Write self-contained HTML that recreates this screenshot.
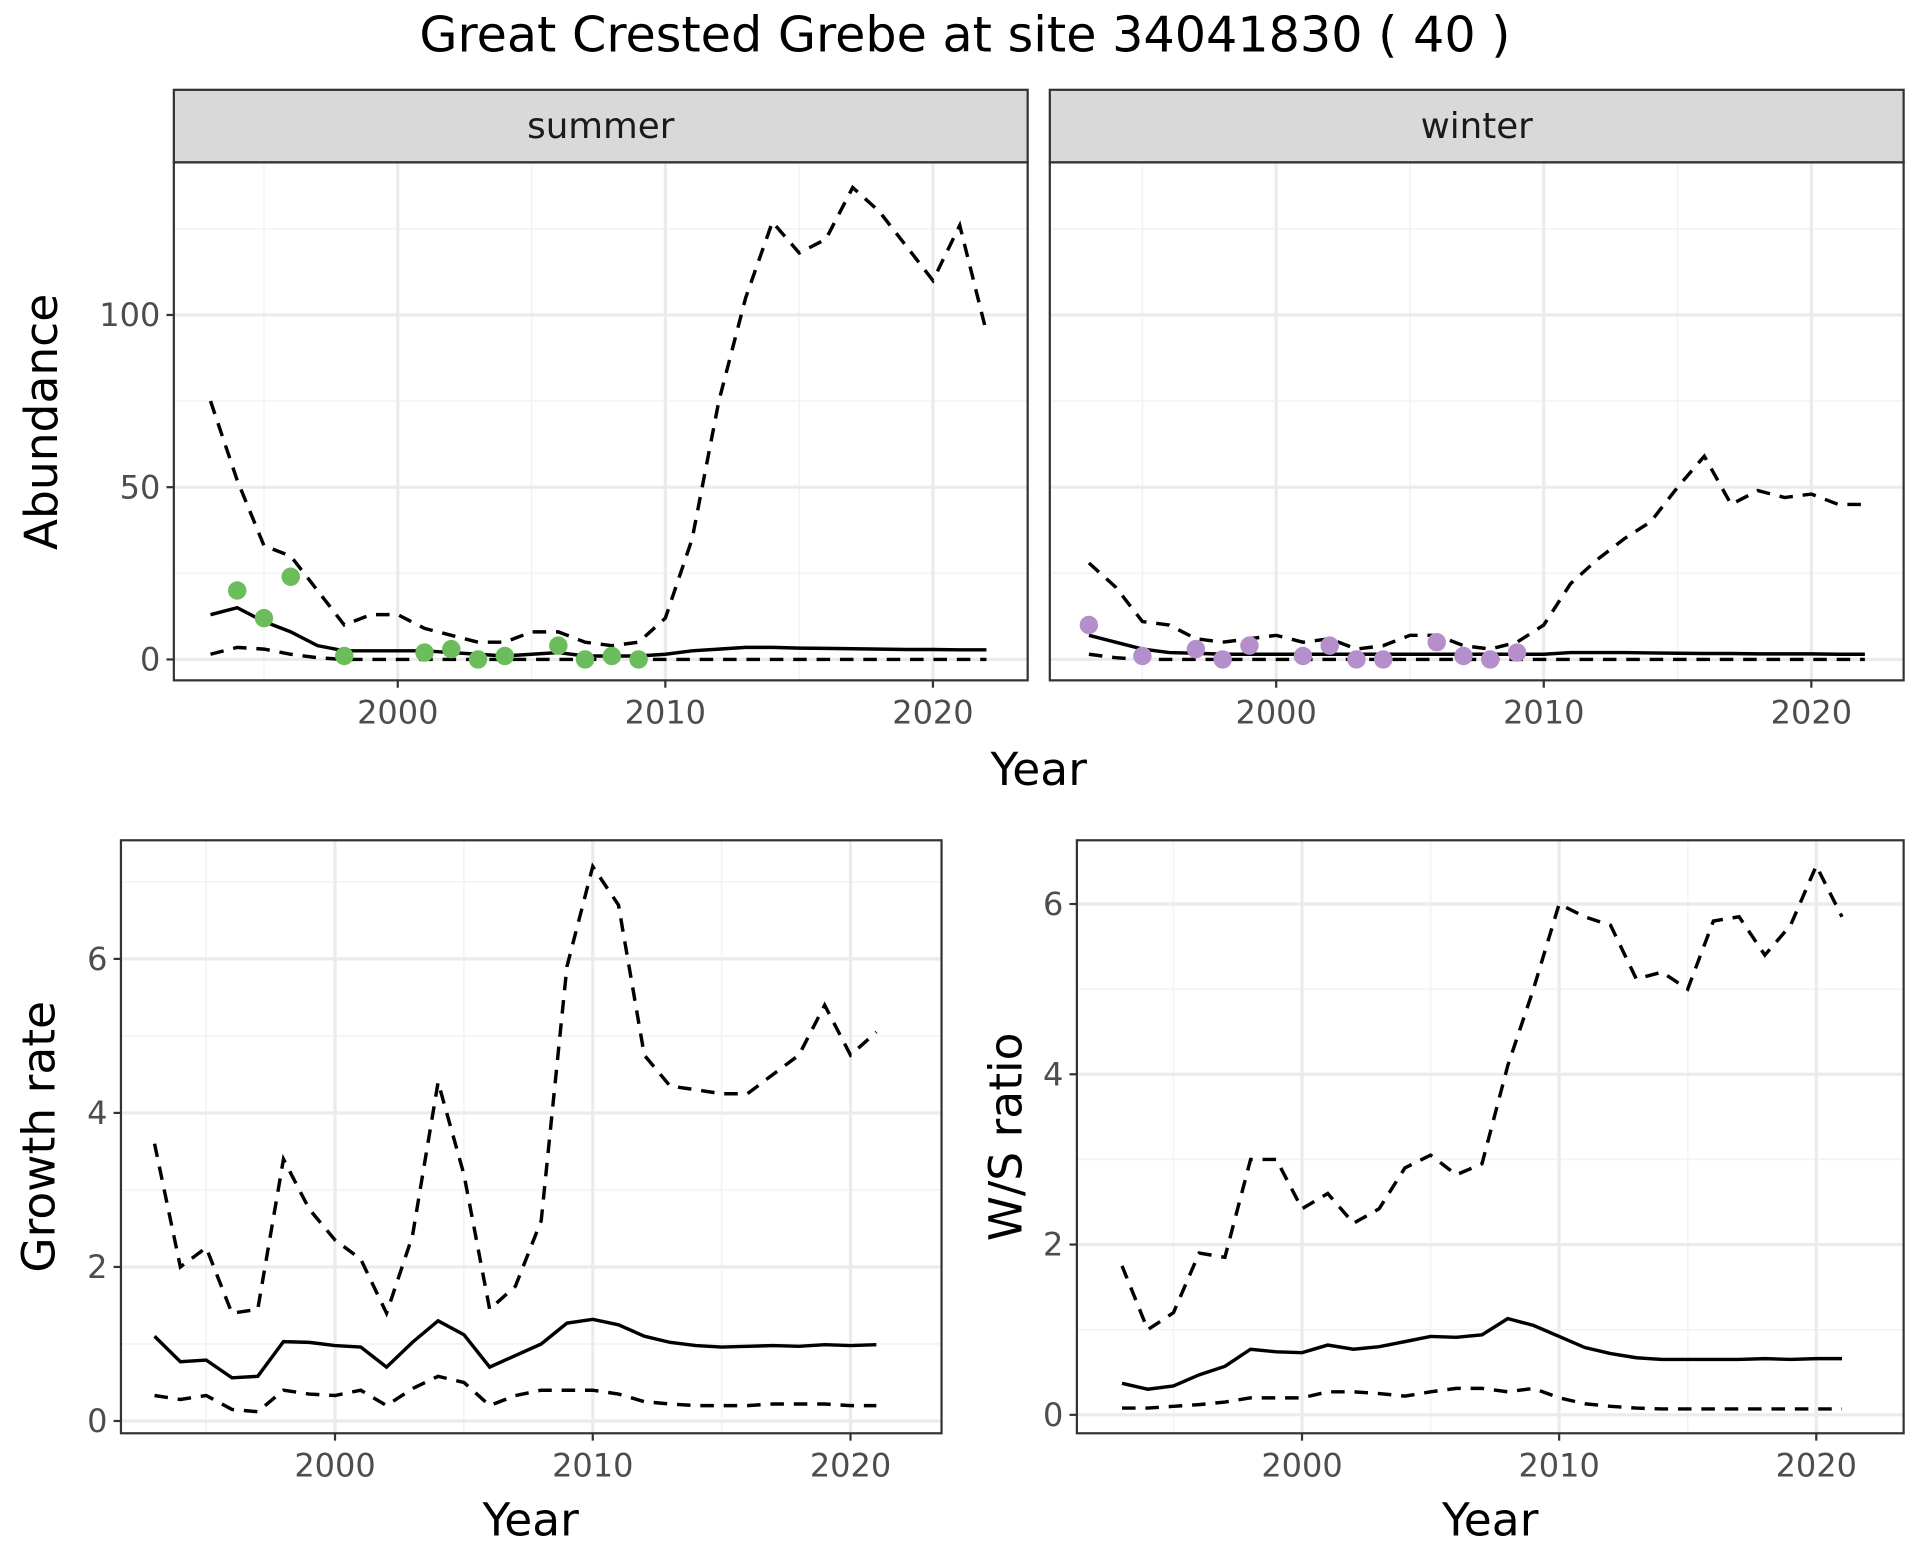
<!DOCTYPE html>
<html><head><meta charset="utf-8"><style>
html,body{margin:0;padding:0;background:#fff}
svg text{font-family:"DejaVu Sans","Liberation Sans",sans-serif}
</style></head><body>
<svg id="s" xmlns="http://www.w3.org/2000/svg" width="1920" height="1560" viewBox="0 0 1560 1268"></svg>
<script>
const S=document.getElementById('s');let h='';
h+='<rect width="1560" height="1268" fill="#fff"/>';
h+='<text x="784" y="42" font-size="40" text-anchor="middle" fill="#000">Great Crested Grebe at site 34041830 ( 40 )</text>';
function panel(o){
 const {x0,x1,y0,y1,X,Y,yt,showY,series,pts,col,yearsStart}=o;
 const px=v=>X[0]+(v-2000)*X[1], py=v=>Y[0]-v*Y[1];
 let g='';
 [1995,2005,2015].forEach(v=>{g+=`<line x1="${px(v)}" x2="${px(v)}" y1="${y0}" y2="${y1}" stroke="#f3f3f3" stroke-width="1.3"/>`});
 for(let i=0;i<yt.length+1;i++){const v=(i-0.5)*(yt[1]-yt[0]);const y=py(v);if(y>y0&&y<y1)g+=`<line x1="${x0}" x2="${x1}" y1="${y}" y2="${y}" stroke="#f3f3f3" stroke-width="1.3"/>`;}
 [2000,2010,2020].forEach(v=>{g+=`<line x1="${px(v)}" x2="${px(v)}" y1="${y0}" y2="${y1}" stroke="#ebebeb" stroke-width="2.6"/>`;g+=`<line x1="${px(v)}" x2="${px(v)}" y1="${y1}" y2="${y1+6}" stroke="#333" stroke-width="1.8"/>`;g+=`<text x="${px(v)}" y="${y1+35}" font-size="26" fill="#4d4d4d" text-anchor="middle">${v}</text>`});
 yt.forEach(v=>{const y=py(v);g+=`<line x1="${x0}" x2="${x1}" y1="${y}" y2="${y}" stroke="#ebebeb" stroke-width="2.6"/>`;if(showY){g+=`<line x1="${x0-6}" x2="${x0}" y1="${y}" y2="${y}" stroke="#333" stroke-width="1.8"/><text x="${x0-11}" y="${y+9}" font-size="26" fill="#4d4d4d" text-anchor="end">${v}</text>`}});
 series.forEach(([d,dash])=>{const p=d.map((v,i)=>`${px(yearsStart+i).toFixed(1)},${py(v).toFixed(1)}`).join(' ');g+=`<polyline points="${p}" fill="none" stroke="#000" stroke-width="2.8" ${dash?'stroke-dasharray="11,8"':''}/>`});
 if(pts)pts.forEach(([yr,v])=>{g+=`<circle cx="${px(yr)}" cy="${py(v)}" r="7.5" fill="${col}"/>`});
 g+=`<rect x="${x0}" y="${y0}" width="${x1-x0}" height="${y1-y0}" fill="none" stroke="#333" stroke-width="1.8"/>`;
 return g;
}
const sm=[13,15,11,8,4,2.5,2.5,2.5,2.5,2,1.5,1,1.5,2,1,1,1,1.5,2.5,3,3.5,3.5,3.3,3.2,3.1,3,2.9,2.9,2.8,2.8];
const su=[75,52,33,30,20,10,13,13,9,7,5,5,8,8,5,4,5,12,35,75,105,127,118,122,137,130,120,110,126,95];
const sl=[1.5,3.5,3,1.5,0.5,0,0,0,0,0,0,0,0,0,0,0,0,0,0,0,0,0,0,0,0,0,0,0,0,0];
const wm=[7,5,3,2,1.8,1.5,1.5,1.5,1.5,1.5,1.5,1.5,1.5,1.5,1.5,1.5,1.5,1.5,2,2,2,1.9,1.8,1.7,1.7,1.6,1.6,1.6,1.5,1.5];
const wu=[28,21,11,10,6,5,6,7,5,6,3,4,7,7,4,3,5,10,22,29,35,40,50,59,45,49,47,48,45,45];
const wl=[1.5,0.5,0,0,0,0,0,0,0,0,0,0,0,0,0,0,0,0,0,0,0,0,0,0,0,0,0,0,0,0];
h+='<rect x="141" y="73" width="694" height="59" fill="#d9d9d9" stroke="#333" stroke-width="1.8"/><text x="488" y="112" font-size="29" text-anchor="middle" fill="#1a1a1a">summer</text>';
h+='<rect x="853" y="73" width="694" height="59" fill="#d9d9d9" stroke="#333" stroke-width="1.8"/><text x="1200" y="112" font-size="29" text-anchor="middle" fill="#1a1a1a">winter</text>';
h+=panel({x0:141,x1:835,y0:132,y1:553,X:[323,21.75],Y:[536,2.8],yt:[0,50,100],showY:true,series:[[sm],[su,1],[sl,1]],yearsStart:1993,col:'#6abd5a',
 pts:[[1994,20],[1995,12],[1996,24],[1998,1],[2001,2],[2002,3],[2003,0],[2004,1],[2006,4],[2007,0],[2008,1],[2009,0]]});
h+=panel({x0:853,x1:1547,y0:132,y1:553,X:[1037,21.75],Y:[536,2.8],yt:[0,50,100],showY:false,series:[[wm],[wu,1],[wl,1]],yearsStart:1993,col:'#b48fcc',
 pts:[[1993,10],[1995,1],[1997,3],[1998,0],[1999,4],[2001,1],[2002,4],[2003,0],[2004,0],[2006,5],[2007,1],[2008,0],[2009,2]]});
h+='<text x="844" y="638" font-size="37" text-anchor="middle">Year</text>';
h+='<text transform="translate(46,343) rotate(-90)" font-size="37" text-anchor="middle">Abundance</text>';
const gm=[1.1,0.77,0.79,0.56,0.58,1.03,1.02,0.98,0.96,0.7,1.02,1.3,1.12,0.7,0.85,1.0,1.27,1.32,1.25,1.1,1.02,0.98,0.96,0.97,0.98,0.97,0.99,0.98,0.99];
const gu=[3.6,2.0,2.25,1.4,1.45,3.4,2.75,2.35,2.1,1.4,2.4,4.4,3.2,1.45,1.75,2.6,5.9,7.2,6.7,4.75,4.35,4.3,4.25,4.25,4.5,4.75,5.4,4.75,5.05];
const gl=[0.33,0.28,0.33,0.15,0.12,0.4,0.35,0.33,0.4,0.2,0.42,0.58,0.5,0.2,0.33,0.4,0.4,0.4,0.35,0.25,0.22,0.2,0.2,0.2,0.22,0.22,0.22,0.2,0.2];
h+=panel({x0:98,x1:765,y0:683,y1:1165,X:[272,20.95],Y:[1155,62.6],yt:[0,2,4,6],showY:true,series:[[gm],[gu,1],[gl,1]],yearsStart:1993});
h+='<text x="431" y="1248" font-size="37" text-anchor="middle">Year</text>';
h+='<text transform="translate(44,924) rotate(-90)" font-size="37" text-anchor="middle">Growth rate</text>';
const rm=[0.37,0.3,0.34,0.47,0.57,0.77,0.74,0.73,0.82,0.77,0.8,0.86,0.92,0.91,0.94,1.13,1.05,0.92,0.79,0.72,0.67,0.65,0.65,0.65,0.65,0.66,0.65,0.66,0.66];
const ru=[1.75,1.0,1.2,1.9,1.85,3.0,3.0,2.42,2.6,2.25,2.42,2.9,3.05,2.82,2.95,4.1,5.0,6.0,5.85,5.75,5.12,5.2,5.0,5.8,5.85,5.4,5.75,6.45,5.85];
const rl=[0.08,0.08,0.1,0.12,0.15,0.2,0.2,0.2,0.27,0.27,0.25,0.22,0.27,0.31,0.31,0.27,0.31,0.2,0.13,0.1,0.08,0.07,0.07,0.07,0.07,0.07,0.07,0.07,0.07];
h+=panel({x0:875,x1:1547,y0:683,y1:1165,X:[1058,20.9],Y:[1150,69.2],yt:[0,2,4,6],showY:true,series:[[rm],[ru,1],[rl,1]],yearsStart:1993});
h+='<text x="1211" y="1248" font-size="37" text-anchor="middle">Year</text>';
h+='<text transform="translate(830,924) rotate(-90)" font-size="37" text-anchor="middle">W/S ratio</text>';
S.innerHTML=h;
</script>
</body></html>
